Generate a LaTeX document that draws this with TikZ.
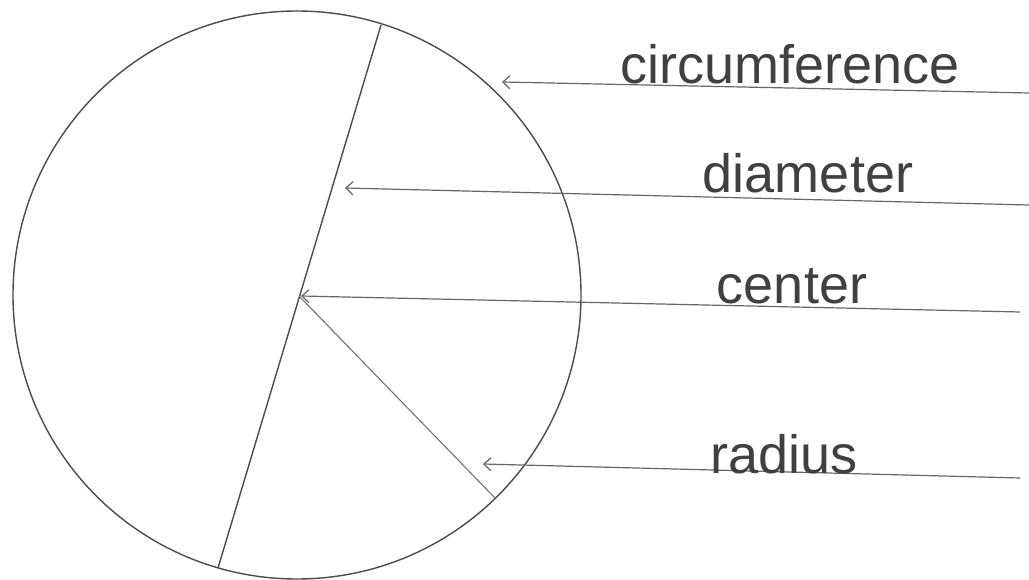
\documentclass[tikz,border=0pt]{standalone}
\usepackage{fontspec}
\setmainfont{Liberation Sans}
\usetikzlibrary{arrows.meta}
\begin{document}
\begin{tikzpicture}[x=1pt,y=-1pt,
  ink/.style={draw=black!70, line width=1.4pt},
  thin ink/.style={draw=black!55, line width=1.1pt},
  pointer/.style={draw=black!60, line width=1.2pt, -{Straight Barb[length=7pt,width=13pt]}},
  lbl/.style={anchor=base, text=black!75, font=\fontsize{54}{60}\selectfont, inner sep=0pt}]
\useasboundingbox (0,0) rectangle (1029,580);
\fill[white] (0,0) rectangle (1029,580);
% circle and its parts
\node[ink, circle, minimum size=568pt, inner sep=0pt] (circ) at (297,295) {};
\coordinate (C) at (299,296);
\coordinate (dt) at (381,25);
\coordinate (db) at (218,568);
\coordinate (re) at (495,498);
\draw[ink] (dt) -- (db);
\draw[thin ink] (C) -- (re);
% arrow ends
\coordinate (a1) at (1029,93);  \coordinate (t1) at (502,82);
\coordinate (a2) at (1029,205); \coordinate (t2) at (345,188);
\coordinate (a3) at (1020,312); \coordinate (t3) at (301,296);
\coordinate (a4) at (1020,478); \coordinate (t4) at (483,464);
\draw[pointer] (a1) -- (t1);
\draw[pointer] (a2) -- (t2);
\draw[pointer] (a3) -- (t3);
\draw[pointer] (a4) -- (t4);
% labels
\node[lbl] (l1) at (790,84) {circumference};
\node[lbl] (l2) at (808,193) {diameter};
\node[lbl] (l3) at (792,304) {center};
\node[lbl] (l4) at (784,473) {radius};
\end{tikzpicture}
\end{document}
